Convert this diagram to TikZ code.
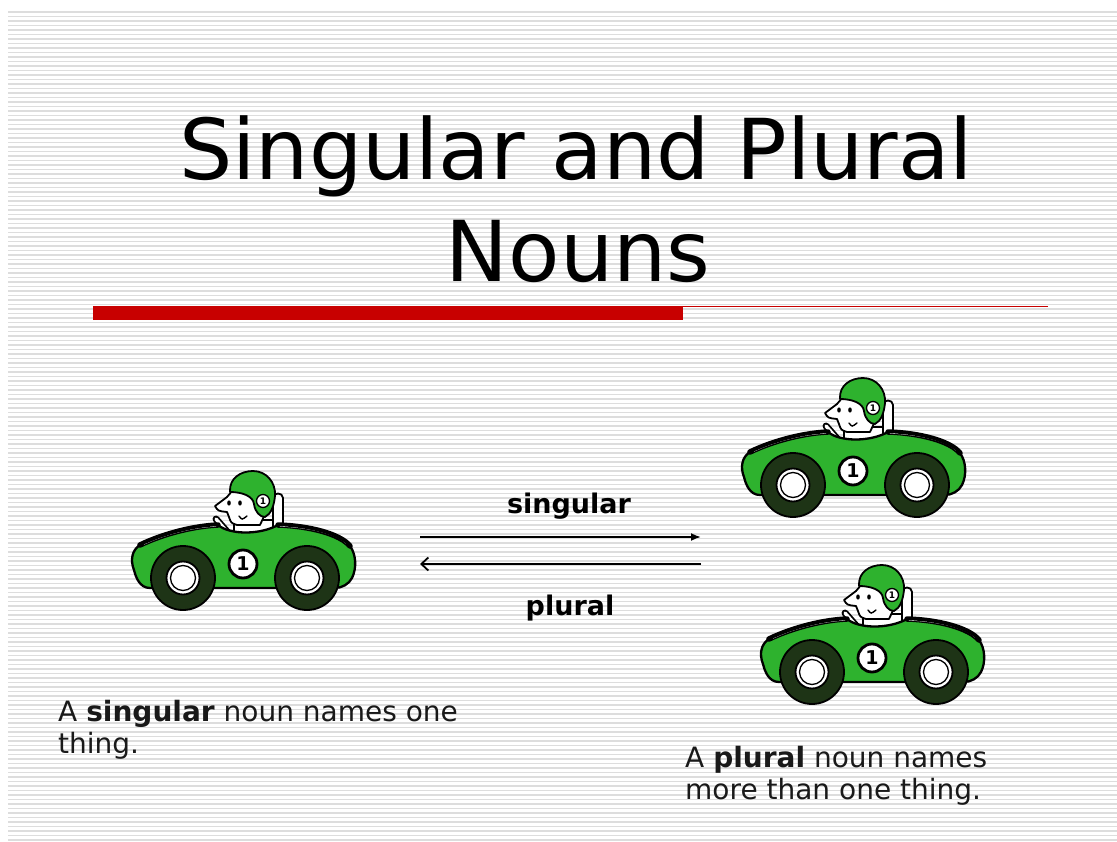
\documentclass[tikz,border=0pt]{standalone}
\usepackage{fontspec}
\setmainfont{DejaVu Sans}
\usetikzlibrary{arrows.meta}

\definecolor{stripe}{RGB}{221,221,221}
\definecolor{barred}{RGB}{200,0,0}
\definecolor{cargreen}{RGB}{46,178,46}
\definecolor{tire}{RGB}{30,52,22}
\definecolor{inkgray}{RGB}{25,25,25}

\tikzset{
  outline/.style={draw=black, line width=1.8, line join=round},
  bodytext/.style={font=\fontsize{28}{32}\selectfont, text=inkgray, inner sep=0, anchor=base west},
  titletext/.style={font=\fontsize{84}{102}\selectfont, inner sep=0, anchor=base},
  arrowlabel/.style={font=\bfseries\fontsize{27}{32}\selectfont, inner sep=0, anchor=base},
  link/.style={line width=1.8},
  % a racing car with its driver, origin at the top left corner
  car/.pic={
    % seat back
    \draw[outline, fill=white] (143,68) -- (143,28) .. controls (143,22) and (153,22) .. (153,28) -- (153,68) -- cycle;
    % torso
    \draw[outline, fill=white] (104,50) rectangle (143,70);
    % steering column
    \draw[line width=7, line cap=round] (86,49) -- (100,65);
    \draw[white, line width=3.4, line cap=round] (86,49) -- (100,65);
    % face
    \draw[outline, fill=white] (103,20) -- (97,27) -- (85,36) .. controls (88,41) .. (97,42)
      -- (99,47) .. controls (101,53) .. (107,55) -- (130,55) -- (136,42) -- (124,26) -- cycle;
    \fill (99,33) ellipse (1.8 and 2.6);
    \fill (110,33) ellipse (1.8 and 2.6);
    \draw[line width=1.4, line cap=round] (109,46) .. controls (112,50) .. (117,46);
    % helmet
    \draw[outline, fill=cargreen] (100,22) .. controls (99,8) and (111,1) .. (123,1)
      .. controls (136,1) and (146,12) .. (145,26) .. controls (144,36) and (141,44) .. (135,47)
      .. controls (130,47) and (125,42) .. (124,34) .. controls (123,26) and (112,22) .. (100,22) -- cycle;
    \node[circle, draw, line width=1.3, fill=white, minimum size=13, inner sep=0,
          font=\bfseries\fontsize{9}{9}\selectfont] (-hbadge) at (133,31) {1};
    % body
    \fill[cargreen] (4,100) .. controls (0,90) and (2,80) .. (10,75)
      .. controls (35,63) and (65,56) .. (88,55)
      .. controls (100,65) and (130,65) .. (148,55)
      .. controls (180,56) and (210,64) .. (220,76)
      .. controls (226,84) and (227,98) .. (222,108)
      .. controls (219,114) and (212,118) .. (205,118)
      -- (20,118) .. controls (10,118) and (6,108) .. (4,100) -- cycle;
    % top edge: black band with a thin highlight
    \draw[line width=5.5, line cap=round] (10,75) .. controls (35,63) and (65,56) .. (88,55);
    \draw[line width=5.5, line cap=round] (148,55) .. controls (180,56) and (210,64) .. (220,76);
    \draw[white, line width=1.2] (14,74) .. controls (37,63) and (65,57) .. (86,56);
    \draw[white, line width=1.2] (150,56) .. controls (180,57) and (208,64) .. (216,73);
    \draw[outline, line width=2.3] (4,100) .. controls (0,90) and (2,80) .. (10,75)
      .. controls (35,63) and (65,56) .. (88,55)
      .. controls (100,65) and (130,65) .. (148,55)
      .. controls (180,56) and (210,64) .. (220,76)
      .. controls (226,84) and (227,98) .. (222,108)
      .. controls (219,114) and (212,118) .. (205,118)
      -- (20,118) .. controls (10,118) and (6,108) .. (4,100) -- cycle;
    % wheels
    \foreach \cx in {53,177} {
      \draw[outline, fill=tire] (\cx,108) circle (32);
      \draw[outline, fill=white] (\cx,108) circle (16.5);
      \draw[line width=1.3] (\cx,108) circle (12.5);
    }
    % number badge
    \node[circle, draw, line width=2.8, fill=white, minimum size=28, inner sep=0,
          font=\bfseries\fontsize{19}{19}\selectfont] (-badge) at (113,94) {1};
  }
}

\begin{document}
\begin{tikzpicture}[x=1pt, y=-1pt]
  \path[use as bounding box] (0,0) rectangle (1117,842);
  \fill[white] (0,0) rectangle (1117,842);
  % ruled background
  \foreach \i in {0,...,184} {
    \draw[stripe, line width=1.3] (8,{12+4.5*\i}) -- (1117,{12+4.5*\i});
  }

  % title
  \node[titletext] (title1) at (576,180) {Singular and Plural};
  \node[titletext] (title2) at (578,282) {Nouns};

  % red rule under the title
  \fill[barred] (93,306) rectangle (683,320);
  \draw[barred, line width=1.4] (683,306.5) -- (1048,306.5);

  % cars
  \pic (carA) at (130,470) {car};
  \pic (carB) at (740,377) {car};
  \pic (carC) at (759,564) {car};

  % arrows between the two forms
  \coordinate (sgFrom) at (420,537);
  \coordinate (sgTo) at (701,537);
  \coordinate (plFrom) at (701,564);
  \coordinate (plTo) at (420,564);
  \draw[link, -{Latex[length=10pt, width=8pt]}] (sgFrom) -- (sgTo);
  \draw[link, -{Straight Barb[length=7pt, width=13pt]}] (plFrom) -- (plTo);
  \node[arrowlabel] (lblSing) at (569,513) {singular};
  \node[arrowlabel] (lblPlur) at (570,615) {plural};

  % captions
  \node[bodytext] (sgLine1) at (58,721) {A \textbf{singular} noun names one};
  \node[bodytext] (sgLine2) at (58,753) {thing.};
  \node[bodytext] (plLine1) at (685,767) {A \textbf{plural} noun names};
  \node[bodytext] (plLine2) at (685,799) {more than one thing.};
\end{tikzpicture}
\end{document}
